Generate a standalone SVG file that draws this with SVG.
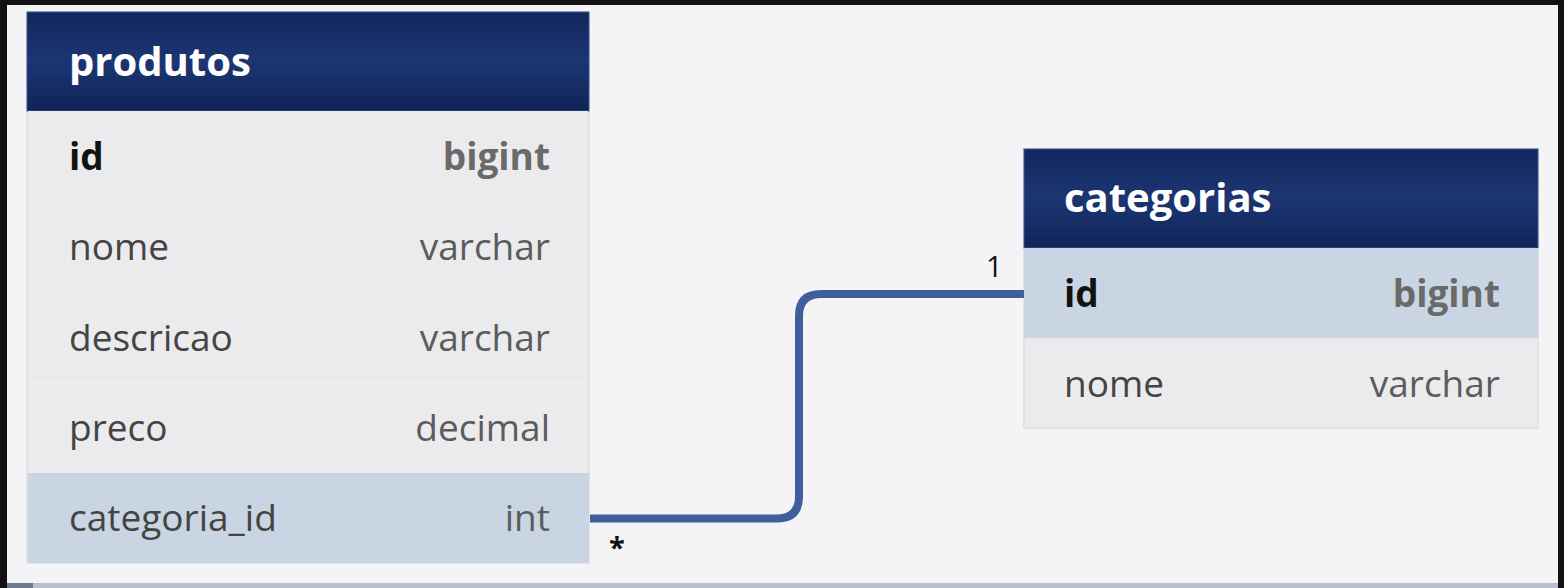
<svg xmlns="http://www.w3.org/2000/svg" width="1564" height="588" viewBox="0 0 1564 588">
<defs>
<linearGradient id="hdr" x1="0" y1="0" x2="0" y2="1">
<stop offset="0" stop-color="#11275c"/>
<stop offset="0.5" stop-color="#1c3673"/>
<stop offset="1" stop-color="#0f2358"/>
</linearGradient>
<style>
.hd{font-family:"Open Sans","DejaVu Sans",sans-serif;font-weight:bold;font-size:40px;fill:#ffffff}
.nm{font-family:"Open Sans","DejaVu Sans",sans-serif;font-size:37px;fill:#444444}
.ty{font-family:"Open Sans","DejaVu Sans",sans-serif;font-size:37px;fill:#5c5c5c;text-anchor:end}
.pk{font-family:"Open Sans","DejaVu Sans",sans-serif;font-size:37px;font-weight:bold;fill:#111111}
.pkt{font-family:"Open Sans","DejaVu Sans",sans-serif;font-size:37px;font-weight:bold;fill:#6a6a6a;text-anchor:end}
.row{fill:#ebebed}
.hl{fill:#c9d5e3}
.sep{stroke:#efeff1;stroke-width:2}
.card{fill:#e9e9eb;stroke:#e2e2e6;stroke-width:2}
.lbl{font-family:"Open Sans","DejaVu Sans",sans-serif;font-size:29px;fill:#111111}
</style>
</defs>
<rect x="0" y="0" width="1564" height="588" fill="#121212"/>
<rect x="7" y="5" width="1551" height="578" fill="#f4f4f6"/>
<rect x="7" y="583" width="1551" height="5" fill="#b9bfd0"/>
<rect x="7" y="583" width="26" height="5" fill="#6e7890"/>
<g id="produtos">
<rect class="card" x="27" y="12" width="562" height="551"/>
<rect x="27" y="12" width="562" height="99" fill="url(#hdr)" stroke="#3c5590" stroke-width="1"/>
<text class="hd" x="69" y="76">produtos</text>
<rect class="row" x="28" y="111" width="560" height="362"/>
<line class="sep" x1="28" y1="203" x2="588" y2="203"/>
<line class="sep" x1="28" y1="293" x2="588" y2="293"/>
<line class="sep" x1="28" y1="383" x2="588" y2="383"/>
<rect class="hl" x="28" y="473" width="561" height="90"/>
<text class="pk" x="69" y="170">id</text>
<text class="pkt" x="550" y="170">bigint</text>
<text class="nm" x="69" y="260">nome</text>
<text class="ty" x="550" y="260">varchar</text>
<text class="nm" x="69" y="351">descricao</text>
<text class="ty" x="550" y="351">varchar</text>
<text class="nm" x="69" y="441">preco</text>
<text class="ty" x="550" y="441">decimal</text>
<text class="nm" x="69" y="531">categoria_id</text>
<text class="ty" x="550" y="531">int</text>
</g>
<g id="categorias">
<rect class="card" x="1024" y="149" width="514" height="279"/>
<rect x="1024" y="149" width="514" height="99" fill="url(#hdr)" stroke="#3c5590" stroke-width="1"/>
<text class="hd" x="1064" y="212">categorias</text>
<rect class="hl" x="1024" y="248" width="514" height="90"/>
<rect class="row" x="1025" y="338" width="512" height="89"/>
<text class="pk" x="1064" y="307">id</text>
<text class="pkt" x="1500" y="307">bigint</text>
<text class="nm" x="1064" y="397">nome</text>
<text class="ty" x="1500" y="397">varchar</text>
</g>
<g id="connectors">
<path d="M590 518.5 H777 Q799 518.5 799 496.5 V316 Q799 294 821 294 H1024" fill="none" stroke="#3f5f9c" stroke-width="8"/>
<text class="lbl" x="986" y="277">1</text>
<text class="lbl" x="609" y="558" font-weight="bold">*</text>
</g>
</svg>
